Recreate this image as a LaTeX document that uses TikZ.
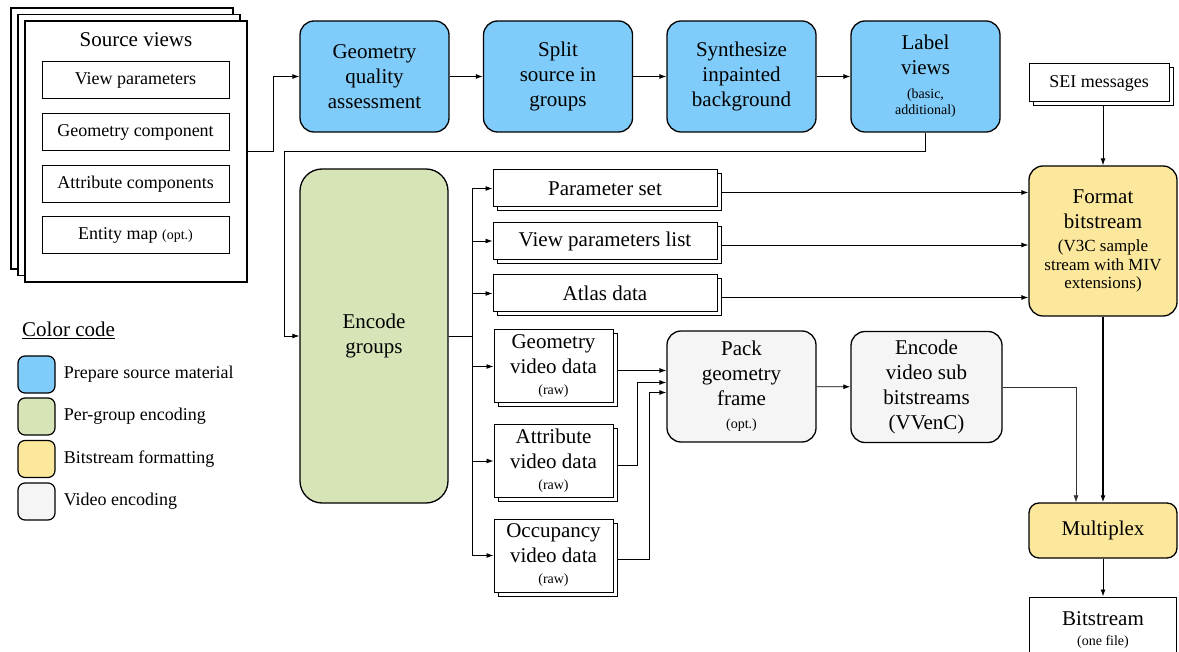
\documentclass[tikz,border=0pt]{standalone}
\usepackage{fontspec}
\setmainfont{Liberation Serif}[Extension=.ttf, UprightFont=LiberationSerif-Regular, BoldFont=LiberationSerif-Bold, ItalicFont=LiberationSerif-Italic]
\usetikzlibrary{arrows.meta,shadows,positioning}

\definecolor{prepblue}{HTML}{7FCBF9}
\definecolor{groupgreen}{HTML}{D6E4B8}
\definecolor{fmtyellow}{HTML}{FCE89C}
\definecolor{vidgray}{HTML}{F5F5F5}

\newcommand{\smalltext}[1]{{\fontsize{14}{16}\selectfont #1}}
\newcommand{\midtext}[1]{{\fontsize{17}{19}\selectfont #1}}

\begin{document}
\begin{tikzpicture}[
    x=1pt, y=-1pt,
    font=\fontsize{21}{25}\selectfont,
    stage/.style={
      draw=black,
      line width=1.3pt,
      rounded corners=14pt,
      align=center,
      inner sep=0pt,
      minimum width=149pt,
      minimum height=111pt
    },
    prep/.style={stage, fill=prepblue},
    pergroup/.style={stage, fill=groupgreen, rounded corners=22pt},
    fmtbox/.style={stage, fill=fmtyellow},
    vidbox/.style={stage, fill=vidgray},
    plainbox/.style={
      draw=black,
      fill=white,
      line width=1pt,
      align=center,
      inner sep=0pt
    },
    databox/.style={
      plainbox,
      copy shadow={shadow xshift=4pt, shadow yshift=-4pt, draw=black, fill=white, line width=1pt}
    },
    inbox/.style={
      plainbox,
      minimum width=187pt,
      minimum height=37pt,
      font=\fontsize{18}{21}\selectfont
    },
    swatch/.style={
      draw=black,
      line width=1.2pt,
      rounded corners=7pt,
      minimum size=37pt,
      inner sep=0pt
    },
    legtext/.style={inner sep=0pt, font=\fontsize{18}{21}\selectfont},
    arr/.style={-{Latex[length=7pt,width=5pt]}, line width=0.9pt}
  ]

  \useasboundingbox (0,0) rectangle (1179,652);

  % source views
  \node (src) at (136,151.5) [plainbox, line width=1.3pt, minimum width=222pt, minimum height=261pt,
    copy shadow={shadow xshift=-14pt, shadow yshift=13pt, draw=black, fill=white, line width=1.3pt},
    copy shadow={shadow xshift=-7pt, shadow yshift=6.5pt, draw=black, fill=white, line width=1.3pt}] {};
  \node (srctitle) at (136,40) {Source views};
  \node (vp) at (135.5,80.5) [inbox] {View parameters};
  \node (gc) at (135.5,132.5) [inbox] {Geometry component};
  \node (ac) at (135.5,184) [inbox] {Attribute components};
  \node (em) at (135.5,235.5) [inbox] {Entity map \smalltext{(opt.)}};

  % prepare source material
  \node (gqa) at (374.5,76.5) [prep] {Geometry\\quality\\assessment};
  \node (split) at (558,76.5) [prep] {Split\\source in\\groups};
  \node (synth) at (741.5,76.5) [prep] {Synthesize\\inpainted\\background};
  \node (lbl) at (925.5,76.5) [prep] {Label\\views\\[-1pt]\smalltext{(basic,}\\[-9pt]\smalltext{additional)}};

  % per-group encoding
  \node (enc) at (374,336) [pergroup, minimum width=148pt, minimum height=334pt] {Encode\\groups};
  \node (ps) at (605,188.5) [databox, minimum width=224pt, minimum height=37pt] {Parameter set};
  \node (vpl) at (605,241) [databox, minimum width=224pt, minimum height=37pt] {View parameters list};
  \node (atlas) at (605,293.5) [databox, minimum width=224pt, minimum height=37pt] {Atlas data};
  \node (gvd) at (553.5,366.5) [databox, minimum width=119pt, minimum height=73pt] {Geometry\\video data\\[-4pt]\smalltext{(raw)}};
  \node (avd) at (553.5,461) [databox, minimum width=119pt, minimum height=73pt] {Attribute\\video data\\[-4pt]\smalltext{(raw)}};
  \node (ovd) at (553.5,555.5) [databox, minimum width=119pt, minimum height=73pt] {Occupancy\\video data\\[-4pt]\smalltext{(raw)}};

  % video encoding
  \node (pack) at (741.5,386.5) [vidbox] {Pack\\geometry\\frame\\[-2pt]\smalltext{(opt.)}};
  \node (evs) at (926.5,387) [vidbox, minimum width=151pt] {Encode\\video sub\\bitstreams\\(VVenC)};

  % bitstream formatting
  \node (sei) at (1099,83) [databox, minimum width=140pt, minimum height=38pt, font=\fontsize{18}{21}\selectfont] {SEI messages};
  \node (fmt) at (1103,241) [fmtbox, minimum width=148pt, minimum height=150pt] {Format\\bitstream\\[-2pt]\midtext{(V3C sample}\\[-6pt]\midtext{stream with MIV}\\[-7pt]\midtext{extensions)}};
  \node (mux) at (1103,530.5) [fmtbox, rounded corners=10pt, minimum width=148pt, minimum height=55pt] {Multiplex};
  \node (bs) at (1103,630) [plainbox, minimum width=147pt, minimum height=66pt] {Bitstream\\[-5pt]\smalltext{(one file)}};

  % color code
  \node (cc) at (22,330) [anchor=west, inner sep=0pt] {\underline{Color code}};
  \node (sw1) at (36.5,374.5) [swatch, fill=prepblue] {};
  \node (sw2) at (36.5,416.5) [swatch, fill=groupgreen] {};
  \node (sw3) at (36.5,459) [swatch, fill=fmtyellow] {};
  \node (sw4) at (36.5,501.5) [swatch, fill=vidgray] {};
  \node (lg1) [legtext, right=8pt of sw1] {Prepare source material};
  \node (lg2) [legtext, right=8pt of sw2] {Per-group encoding};
  \node (lg3) [legtext, right=8pt of sw3] {Bitstream formatting};
  \node (lg4) [legtext, right=8pt of sw4] {Video encoding};

  \draw[arr] (src.east) -- ++(26,0) |- (gqa.west);
  \draw[arr] (gqa) -- (split);
  \draw[arr] (split) -- (synth);
  \draw[arr] (synth) -- (lbl);
  \draw[arr] (lbl.south) -- ++(0,19) -| ([xshift=-15pt]enc.west) -- (enc.west);

  \draw[arr] (enc.east) -- ++(24,0) |- (ps.west);
  \draw[arr] (enc.east) -- ++(24,0) |- (vpl.west);
  \draw[arr] (enc.east) -- ++(24,0) |- (atlas.west);
  \draw[arr] (enc.east) -- ++(24,0) |- (gvd.west);
  \draw[arr] (enc.east) -- ++(24,0) |- (avd.west);
  \draw[arr] (enc.east) -- ++(24,0) |- (ovd.west);

  \draw[arr] ([xshift=4pt,yshift=-4pt]ps.east) -- ([yshift=-4pt]ps.east -| fmt.west);
  \draw[arr] ([xshift=4pt,yshift=-4pt]vpl.east) -- ([yshift=-4pt]vpl.east -| fmt.west);
  \draw[arr] ([xshift=4pt,yshift=-4pt]atlas.east) -- ([yshift=-4pt]atlas.east -| fmt.west);
  \draw[arr] ([xshift=4pt,yshift=-4pt]sei.south) -- ([xshift=4pt]sei.south |- fmt.north);

  \draw[arr] ([xshift=4pt,yshift=-4pt]gvd.east) -- ([yshift=-4pt]gvd.east -| pack.west);
  \draw[arr] ([xshift=4pt,yshift=-4pt]avd.east) -- ++(20,0) |- ([yshift=4pt]pack.west);
  \draw[arr] ([xshift=4pt,yshift=-4pt]ovd.east) -- ++(32,0) |- ([yshift=-6pt]pack.west);
  \draw[arr] (pack) -- (evs);

  \draw[arr, line width=0.6pt, black!80] (evs.east) -| ([xshift=-27pt]mux.north);
  \draw[arr, line width=1.2pt] (fmt) -- (mux);
  \draw[arr] (mux) -- (bs);

\end{tikzpicture}
\end{document}
